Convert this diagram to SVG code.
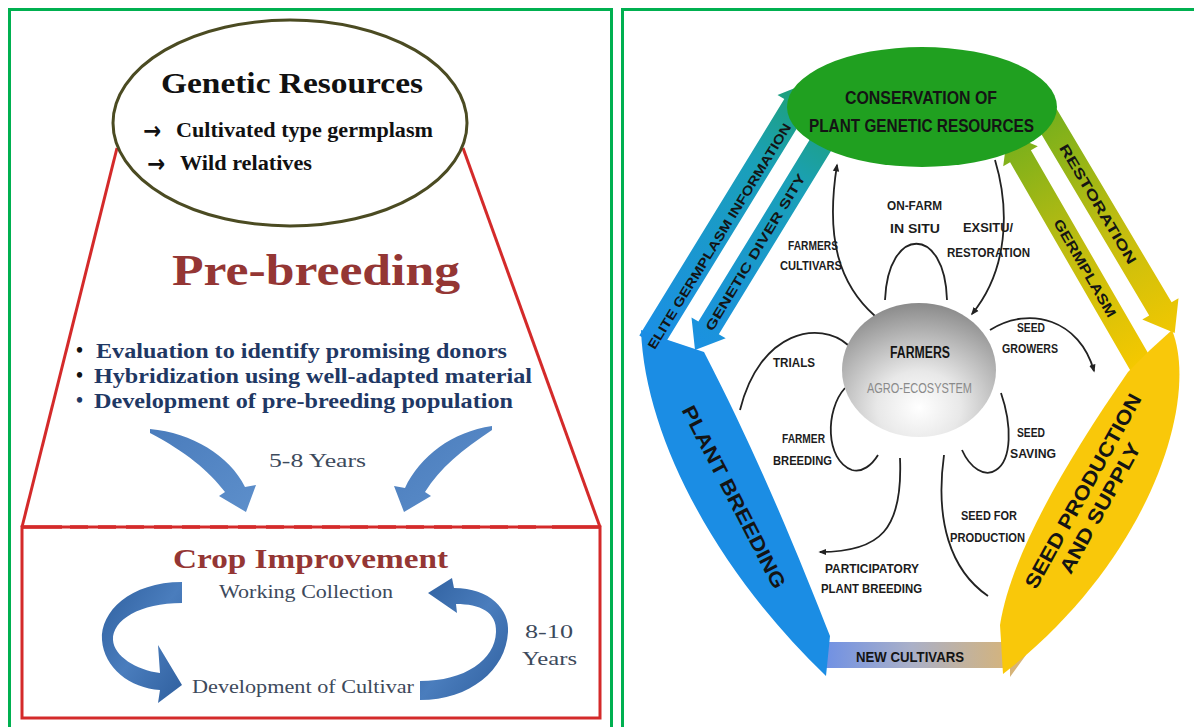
<svg xmlns="http://www.w3.org/2000/svg" width="1194" height="727" viewBox="0 0 1194 727">
<style>
.frame{fill:none;stroke:#00b050;stroke-width:3}
.red{fill:none;stroke:#d42a2a;stroke-width:3}
.serif{font-family:"Liberation Serif","Times New Roman",serif}
.arrowg{font-family:"DejaVu Sans",sans-serif;font-size:25px;font-weight:bold;fill:#111}
.navy{fill:#1f3864;font-weight:bold;font-size:21px}
.grey{fill:#3d4a5c;font-size:19px}
.maroon{fill:#943634;font-weight:bold}
.lbl{font-family:"Liberation Sans",Arial,sans-serif;font-weight:bold;font-size:13px;fill:#1c1c1c}
.big{font-family:"Liberation Sans",Arial,sans-serif;font-weight:bold;fill:#141414}
.arc{fill:none;stroke:#222;stroke-width:1.8}
.arcm{fill:none;stroke:#222;stroke-width:1.8;marker-end:url(#ah)}
</style>
<defs>
<marker id="ah" viewBox="0 0 10 10" refX="8" refY="5" markerWidth="8" markerHeight="8" markerUnits="userSpaceOnUse" orient="auto"><path d="M0,1 L10,5 L0,9 z" fill="#222"/></marker>
<linearGradient id="blueArrow" x1="0" y1="0" x2="1" y2="1"><stop offset="0" stop-color="#4a7cbc"/><stop offset="1" stop-color="#5d8fcb"/></linearGradient>
<linearGradient id="ribbon" x1="0" y1="0" x2="1" y2="1"><stop offset="0" stop-color="#2f609f"/><stop offset="0.5" stop-color="#4a7dbd"/><stop offset="1" stop-color="#2f5f9e"/></linearGradient>
<linearGradient id="bandL" gradientUnits="userSpaceOnUse" x1="650" y1="345" x2="815" y2="90"><stop offset="0" stop-color="#1b8fe6"/><stop offset="0.7" stop-color="#1aa0b8"/><stop offset="1" stop-color="#1fa070"/></linearGradient>
<linearGradient id="bandR" gradientUnits="userSpaceOnUse" x1="1030" y1="100" x2="1170" y2="345"><stop offset="0" stop-color="#6aad1e"/><stop offset="0.55" stop-color="#c2bd10"/><stop offset="1" stop-color="#f4c800"/></linearGradient>
<linearGradient id="newc" gradientUnits="userSpaceOnUse" x1="818" y1="0" x2="1025" y2="0"><stop offset="0" stop-color="#6b8ee6"/><stop offset="0.45" stop-color="#aab0c8"/><stop offset="1" stop-color="#dcb46e"/></linearGradient>
<radialGradient id="farm" cx="0.5" cy="0.78" r="0.78"><stop offset="0" stop-color="#ffffff"/><stop offset="0.35" stop-color="#e8e8e8"/><stop offset="0.7" stop-color="#b6b6b6"/><stop offset="1" stop-color="#8a8a8a"/></radialGradient>
</defs>
<rect width="1194" height="727" fill="#ffffff"/>

<!-- frames -->
<rect class="frame" x="9.5" y="9.5" width="602" height="730"/>
<rect class="frame" x="622.5" y="9.5" width="580" height="730"/>

<!-- LEFT PANEL -->
<g id="prebreeding-frame">
<line class="red" x1="117" y1="148" x2="22" y2="527"/>
<line class="red" x1="463" y1="148" x2="600" y2="527"/>
<line x1="22" y1="527" x2="62" y2="527" stroke="#d42a2a" stroke-width="3.5"/>
<line x1="70" y1="527" x2="546" y2="527" stroke="#d42a2a" stroke-width="3.5" stroke-dasharray="18 10"/>
<line x1="552" y1="527" x2="600" y2="527" stroke="#d42a2a" stroke-width="3.5"/>
</g>

<g id="genetic-resources">
<ellipse cx="290" cy="123" rx="177" ry="103" fill="#ffffff" stroke="#4b4b22" stroke-width="3"/>
<text class="serif" x="161" y="93" font-size="30" font-weight="bold" fill="#111" textLength="262" lengthAdjust="spacingAndGlyphs">Genetic Resources</text>
<text class="arrowg" x="143" y="139" textLength="18" lengthAdjust="spacingAndGlyphs">→</text>
<text class="serif" x="176" y="137" font-size="20" font-weight="bold" fill="#111" textLength="257" lengthAdjust="spacingAndGlyphs">Cultivated type germplasm</text>
<text class="arrowg" x="147" y="172" textLength="18" lengthAdjust="spacingAndGlyphs">→</text>
<text class="serif" x="180" y="170" font-size="20" font-weight="bold" fill="#111" textLength="132" lengthAdjust="spacingAndGlyphs">Wild relatives</text>
</g>

<g id="pre-breeding">
<text class="serif maroon" x="172" y="285" font-size="44" textLength="288" lengthAdjust="spacingAndGlyphs">Pre-breeding</text>
<text class="serif" x="76" y="357" font-size="20" font-weight="bold" fill="#111">•</text>
<text class="serif navy" x="96" y="358" textLength="411" lengthAdjust="spacingAndGlyphs">Evaluation to identify promising donors</text>
<text class="serif" x="76" y="382" font-size="20" font-weight="bold" fill="#111">•</text>
<text class="serif navy" x="94" y="383" textLength="438" lengthAdjust="spacingAndGlyphs">Hybridization using well-adapted material</text>
<text class="serif" x="76" y="407" font-size="20" font-weight="bold" fill="#1f3864">•</text>
<text class="serif navy" x="94" y="408" textLength="419" lengthAdjust="spacingAndGlyphs">Development of pre-breeding population</text>
<text class="serif grey" x="269" y="467" textLength="97" lengthAdjust="spacingAndGlyphs">5-8 Years</text>
</g>

<g id="crop-improvement">
<rect class="red" x="22" y="527" width="578" height="191"/>
<text class="serif maroon" x="173" y="568" font-size="27" textLength="275" lengthAdjust="spacingAndGlyphs">Crop Improvement</text>
<text class="serif grey" x="219" y="598" font-size="18" textLength="174" lengthAdjust="spacingAndGlyphs">Working Collection</text>
<text class="serif grey" x="192" y="693" font-size="18" textLength="222" lengthAdjust="spacingAndGlyphs">Development of Cultivar</text>
<text class="serif grey" x="525" y="638" font-size="21" textLength="48" lengthAdjust="spacingAndGlyphs">8-10</text>
<text class="serif grey" x="522" y="665" font-size="21" textLength="55" lengthAdjust="spacingAndGlyphs">Years</text>
</g>

<g id="connectors">
<!-- 5-8 years arrows -->
<path d="M150,429 C192,433 229,455 245,487 L256,485 L246,512 L219,496 L225,492 C208,470 186,452 150,433 Z" fill="url(#blueArrow)"/>
<path d="M492,426 C452,432 420,456 405,488 L394,486 L404,512 L431,496 L425,492 C440,468 462,450 492,430 Z" fill="url(#blueArrow)"/>
<!-- crop improvement ribbon arrows -->
<path d="M182,582 C130,582 100,612 102,640 C104,668 130,688 160,690 L158,703 L182,685 L158,645 L160,673 C136,670 114,656 113,640 C112,620 140,603 182,603 Z" fill="url(#ribbon)"/>
<path d="M420,681 C465,681 495,660 496,632 C497,612 480,604 456,604 L457,613 L428,593 L452,578 L454,588 C490,588 510,610 508,632 C506,670 470,700 420,700 Z" fill="url(#ribbon)"/>

<!-- right panel bands -->
<polygon points="639.3,335.6 661.5,349.2 806.5,112.7 813.3,116.9 810,82 777.5,94.9 784.3,99.1" fill="url(#bandL)"/>
<polygon points="812.7,134.8 833.1,147.4 718.8,334.2 725.7,338.3 695,350.1 691.5,317.5 698.4,321.6" fill="url(#bandL)"/>
<polygon points="1047.9,94.2 1171.6,302.3 1178.5,298.2 1174.7,333 1142.3,319.6 1149.2,315.5 1025.5,107.4" fill="url(#bandR)"/>
<polygon points="1132.1,373.6 1152.9,361.6 1030.9,150.3 1037.8,146.3 1007.5,133.8 1003.2,166.3 1010.1,162.3" fill="url(#bandR)"/>

<!-- new cultivars arrow -->
<path d="M818,642 L1010,642 L1010,633 L1026,655 L1010,677 L1010,668 L818,668 Z" fill="url(#newc)"/>

<!-- center arcs -->
<path class="arcm" d="M875,316 C840,285 825,240 837,165"/>
<path class="arcm" d="M995,160 C1010,210 1008,270 972,314"/>
<path class="arc" d="M885,300 C888,225 945,225 947,300"/>
<path class="arc" d="M848,345 C820,320 760,330 740,410"/>
<path class="arc" d="M845,388 C825,410 825,460 852,470 C862,473 872,465 878,455"/>
<path class="arcm" d="M900,458 C903,530 880,552 820,552"/>
<path class="arc" d="M944,455 C935,520 950,570 988,596"/>
<path class="arc" d="M1001,393 C1012,425 1012,460 996,470 C985,478 970,468 962,450"/>
<path class="arcm" d="M990,330 C1030,305 1080,320 1094,371"/>
</g>

<!-- RIGHT PANEL NODES -->
<g id="conservation">
<ellipse cx="922" cy="107" rx="135" ry="60" fill="#20a020"/>
</g>
<g id="plant-breeding">
<path d="M641,330 C645,440 720,575 826,676 L830,636 C800,560 760,460 704,352 L668,340 Z" fill="#1b8de4"/>
<text class="big" transform="translate(734,497) rotate(62.7)" x="0" y="7" font-size="20" text-anchor="middle" textLength="203" lengthAdjust="spacingAndGlyphs">PLANT BREEDING</text>
</g>
<g id="seed-production">
<path d="M1172,330 C1200,400 1150,560 1003,674 L1000,625 C1010,560 1060,470 1128,372 L1150,350 Z" fill="#f9c80a"/>
<text class="big" transform="translate(1083,491) rotate(-61)" x="0" y="7" font-size="20" text-anchor="middle" textLength="219" lengthAdjust="spacingAndGlyphs">SEED PRODUCTION</text>
<text class="big" transform="translate(1100,508) rotate(-61)" x="0" y="7" font-size="20" text-anchor="middle" textLength="146" lengthAdjust="spacingAndGlyphs">AND SUPPLY</text>
</g>
<g id="band-labels">
<text class="big" transform="translate(719,236) rotate(-58.5)" x="0" y="5" font-size="13" fill="#0d2d6b" text-anchor="middle" textLength="262" lengthAdjust="spacingAndGlyphs">ELITE GERMPLASM INFORMATION</text>
<text class="big" transform="translate(755,252) rotate(-58.8)" x="0" y="5" font-size="13" fill="#0d3a66" text-anchor="middle" textLength="181" lengthAdjust="spacingAndGlyphs">GENETIC DIVER SITY</text>
<text class="big" transform="translate(1098,204) rotate(59.3)" x="0" y="5" font-size="14" fill="#3a3a00" text-anchor="middle" textLength="137" lengthAdjust="spacingAndGlyphs">RESTORATION</text>
<text class="big" transform="translate(1085,268) rotate(60)" x="0" y="5" font-size="14" fill="#3a3a00" text-anchor="middle" textLength="111" lengthAdjust="spacingAndGlyphs">GERMPLASM</text>
</g>
<g id="conservation-label">
<text class="big" x="845" y="104" font-size="19" fill="#0f2a0f" textLength="152" lengthAdjust="spacingAndGlyphs">CONSERVATION OF</text>
<text class="big" x="809" y="132" font-size="19" fill="#0f2a0f" textLength="225" lengthAdjust="spacingAndGlyphs">PLANT GENETIC RESOURCES</text>
</g>
<g id="farmers">
<ellipse cx="919" cy="370" rx="77" ry="67" fill="url(#farm)"/>
<text class="big" x="890" y="358" font-size="16" fill="#222" textLength="60" lengthAdjust="spacingAndGlyphs">FARMERS</text>
<text x="867" y="393" font-family="Liberation Sans, Arial, sans-serif" font-size="14" fill="#8a8a8a" textLength="105" lengthAdjust="spacingAndGlyphs">AGRO-ECOSYSTEM</text>
</g>
<g id="new-cultivars">
<text class="big" x="856" y="662" font-size="15" fill="#222" textLength="108" lengthAdjust="spacingAndGlyphs">NEW CULTIVARS</text>
</g>
<g id="arc-labels">
<text class="lbl" x="788" y="250" textLength="50" lengthAdjust="spacingAndGlyphs">FARMERS</text>
<text class="lbl" x="780" y="270" textLength="62" lengthAdjust="spacingAndGlyphs">CULTIVARS</text>
<text class="lbl" x="887" y="210" textLength="55" lengthAdjust="spacingAndGlyphs">ON-FARM</text>
<text class="lbl" x="890" y="233" textLength="50" lengthAdjust="spacingAndGlyphs">IN SITU</text>
<text class="lbl" x="963" y="232" textLength="50" lengthAdjust="spacingAndGlyphs">EXSITU/</text>
<text class="lbl" x="947" y="257" textLength="83" lengthAdjust="spacingAndGlyphs">RESTORATION</text>
<text class="lbl" x="773" y="367" textLength="42" lengthAdjust="spacingAndGlyphs">TRIALS</text>
<text class="lbl" x="782" y="443" textLength="43" lengthAdjust="spacingAndGlyphs">FARMER</text>
<text class="lbl" x="773" y="465" textLength="59" lengthAdjust="spacingAndGlyphs">BREEDING</text>
<text class="lbl" x="1017" y="332" textLength="28" lengthAdjust="spacingAndGlyphs">SEED</text>
<text class="lbl" x="1002" y="353" textLength="56" lengthAdjust="spacingAndGlyphs">GROWERS</text>
<text class="lbl" x="1017" y="437" textLength="28" lengthAdjust="spacingAndGlyphs">SEED</text>
<text class="lbl" x="1010" y="458" textLength="46" lengthAdjust="spacingAndGlyphs">SAVING</text>
<text class="lbl" x="961" y="520" textLength="56" lengthAdjust="spacingAndGlyphs">SEED FOR</text>
<text class="lbl" x="950" y="542" textLength="75" lengthAdjust="spacingAndGlyphs">PRODUCTION</text>
<text class="lbl" x="825" y="573" textLength="94" lengthAdjust="spacingAndGlyphs">PARTICIPATORY</text>
<text class="lbl" x="821" y="593" textLength="101" lengthAdjust="spacingAndGlyphs">PLANT BREEDING</text>
</g>
</svg>
